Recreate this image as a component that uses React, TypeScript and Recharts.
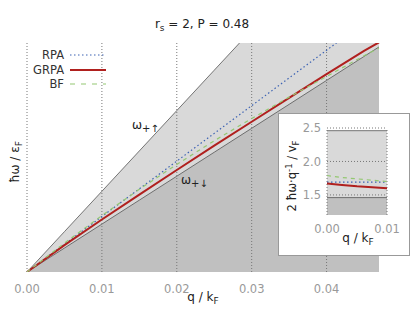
import { ComposedChart, Area, Line, XAxis, YAxis, ReferenceLine } from 'recharts';

// main panel: q / k_F and hbar*omega / eps_F
const qMain = [0, 0.005, 0.01, 0.015, 0.02, 0.025, 0.03, 0.035, 0.04, 0.045, 0.047];
const upperMain = [0, 0.0123, 0.0246, 0.0369, 0.0492, 0.0615, 0.0738, 0.0861, 0.0984, 0.1107, 0.1156];
const lowerMain = [0, 0.0073, 0.0146, 0.0219, 0.0292, 0.0365, 0.0438, 0.0511, 0.0584, 0.0657, 0.0686];
const rpaMain = [0, 0.00845, 0.0169, 0.02535, 0.0338, 0.04225, 0.0507, 0.05915, 0.0676, 0.07605, 0.0794];
const grpaMain = [0, 0.0082, 0.0160, 0.0236, 0.0311, 0.0385, 0.0458, 0.0531, 0.0603, 0.0674, 0.0700];
const bfMain = [0, 0.0088, 0.0172, 0.0252, 0.0328, 0.0400, 0.0468, 0.0533, 0.0596, 0.0659, 0.0683];
const mainTicks = [0, 0.01, 0.02, 0.03, 0.04];

// inset: 2 hbar*omega / (q v_F)
const qInset = [0, 0.0025, 0.005, 0.0075, 0.01];
const upperInset = [2.46, 2.46, 2.46, 2.46, 2.46];
const lowerInset = [1.46, 1.46, 1.46, 1.46, 1.46];
const rpaInset = [1.69, 1.69, 1.69, 1.69, 1.69];
const grpaInset = [1.67, 1.65, 1.63, 1.615, 1.6];
const bfInset = [1.79, 1.76, 1.74, 1.72, 1.7];
const insetXTicks = [0, 0.01];
const insetYTicks = [1.5, 2.0, 2.5];

const mainData = qMain.map((q, i) => ({
  q,
  upper: upperMain[i],
  lower: lowerMain[i],
  rpa: rpaMain[i],
  grpa: grpaMain[i],
  bf: bfMain[i],
}));

const insetData = qInset.map((q, i) => ({
  q,
  upper: upperInset[i],
  lower: lowerInset[i],
  rpa: rpaInset[i],
  grpa: grpaInset[i],
  bf: bfInset[i],
}));

const FONT = 'DejaVu Sans';
const LIGHT = '#d9d9d9';
const DARK = '#c0c0c0';
const EDGE = '#555';
const BLUE = '#3d63b3';
const RED = '#b0201e';
const GREEN = '#94c872';

export default function App() {
  return (
    <div style={{ position: 'absolute', left: 0, top: 0, width: 415, height: 319, background: '#fff', fontFamily: FONT }}>
      <ComposedChart
        width={415}
        height={319}
        data={mainData}
        margin={{ top: 43, right: 36, left: 27, bottom: 17 }}
      >
        <XAxis
          dataKey="q"
          type="number"
          domain={[0, 0.047]}
          ticks={mainTicks}
          tickFormatter={(v: number) => v.toFixed(2)}
          axisLine={false}
          tickLine={false}
          tickSize={0}
          tickMargin={13}
          height={30}
          tick={{ fill: '#999', fontSize: 11.5, fontFamily: FONT }}
        />
        <YAxis hide type="number" domain={[0, 0.0698]} allowDataOverflow />
        <Area dataKey="upper" type="linear" fill={LIGHT} fillOpacity={1} stroke={EDGE} strokeWidth={0.8} isAnimationActive={false} dot={false} activeDot={false} />
        <Area dataKey="lower" type="linear" fill={DARK} fillOpacity={1} stroke={EDGE} strokeWidth={0.8} isAnimationActive={false} dot={false} activeDot={false} />
        {mainTicks.map((t) => (
          <ReferenceLine key={t} x={t} stroke="#777" strokeDasharray="1 2" />
        ))}
        <Line dataKey="rpa" type="linear" stroke={BLUE} strokeWidth={1.2} strokeDasharray="1.5 2.5" dot={false} isAnimationActive={false} />
        <Line dataKey="grpa" type="linear" stroke={RED} strokeWidth={2} dot={false} isAnimationActive={false} />
        <Line dataKey="bf" type="linear" stroke={GREEN} strokeWidth={1.2} strokeDasharray="4 4" dot={false} isAnimationActive={false} />
      </ComposedChart>

      <svg width={415} height={319} style={{ position: 'absolute', left: 0, top: 0, pointerEvents: 'none' }} fontFamily={FONT}>
        <text x={202} y={28} textAnchor="middle" fontSize={12} fill="#222">
          r<tspan fontSize={9} dy={3}>s</tspan>
          <tspan dy={-3}> = 2, P = 0.48</tspan>
        </text>
        <text transform="translate(19,162) rotate(-90)" textAnchor="middle" fontSize={12} fill="#222">
          ħω / ε<tspan fontSize={9} dy={3}>F</tspan>
        </text>
        <text x={203} y={301} textAnchor="middle" fontSize={12} fill="#222">
          q / k<tspan fontSize={9} dy={3}>F</tspan>
        </text>
        <text x={132} y={129} fontSize={12} fill="#222">
          ω<tspan fontSize={10} dy={3}>+↑</tspan>
        </text>
        <text x={181} y={184} fontSize={12} fill="#222">
          ω<tspan fontSize={10} dy={3}>+↓</tspan>
        </text>
        <g fontSize={11.5} fill="#333" textAnchor="end">
          <text x={64} y={59}>RPA</text>
          <text x={64} y={74}>GRPA</text>
          <text x={64} y={88}>BF</text>
        </g>
        <line x1={70} x2={106} y1={55} y2={55} stroke={BLUE} strokeWidth={1.2} strokeDasharray="1.5 2.5" />
        <line x1={70} x2={106} y1={70} y2={70} stroke={RED} strokeWidth={2} />
        <line x1={70} x2={106} y1={84} y2={84} stroke={GREEN} strokeWidth={1.2} strokeDasharray="5 6" />
      </svg>

      <div style={{ position: 'absolute', left: 278, top: 113, width: 130, height: 141, border: '1px solid #999', background: '#fff' }}>
        <ComposedChart
          width={130}
          height={141}
          data={insetData}
          margin={{ top: 14, right: 22, left: 0, bottom: 10 }}
        >
          <XAxis
            dataKey="q"
            type="number"
            domain={[0, 0.01]}
            ticks={insetXTicks}
            tickFormatter={(v: number) => v.toFixed(2)}
            axisLine={false}
            tickLine={false}
            tickSize={0}
            tickMargin={10}
            height={30}
            tick={{ fill: '#999', fontSize: 11.5, fontFamily: FONT }}
          />
          <YAxis
            type="number"
            domain={[1.2, 2.5]}
            ticks={insetYTicks}
            tickFormatter={(v: number) => v.toFixed(1)}
            allowDataOverflow
            axisLine={false}
            tickLine={false}
            tickSize={0}
            tickMargin={6}
            width={48}
            tick={{ fill: '#999', fontSize: 11.5, fontFamily: FONT }}
          />
          <Area dataKey="upper" type="linear" fill={LIGHT} fillOpacity={1} stroke={EDGE} strokeWidth={0.8} isAnimationActive={false} dot={false} activeDot={false} />
          <Area dataKey="lower" type="linear" fill={DARK} fillOpacity={1} stroke={EDGE} strokeWidth={0.8} isAnimationActive={false} dot={false} activeDot={false} />
          {insetXTicks.map((t) => (
            <ReferenceLine key={'x' + t} x={t} stroke="#777" strokeDasharray="1 2" />
          ))}
          {insetYTicks.map((t) => (
            <ReferenceLine key={'y' + t} y={t} stroke="#777" strokeDasharray="1 2" />
          ))}
          <Line dataKey="rpa" type="linear" stroke={BLUE} strokeWidth={1.2} strokeDasharray="1.5 2.5" dot={false} isAnimationActive={false} />
          <Line dataKey="bf" type="linear" stroke={GREEN} strokeWidth={1.2} strokeDasharray="4 4" dot={false} isAnimationActive={false} />
          <Line dataKey="grpa" type="linear" stroke={RED} strokeWidth={2} dot={false} isAnimationActive={false} />
        </ComposedChart>
        <svg width={130} height={141} style={{ position: 'absolute', left: 0, top: 0, pointerEvents: 'none' }} fontFamily={FONT}>
          <text transform="translate(17,62) rotate(-90)" textAnchor="middle" fontSize={11.5} fill="#222">
            2 ħω·q<tspan fontSize={8.5} dy={-4}>-1</tspan>
            <tspan dy={4}> / v</tspan>
            <tspan fontSize={8.5} dy={3}>F</tspan>
          </text>
          <text x={79} y={128} textAnchor="middle" fontSize={12} fill="#222">
            q / k<tspan fontSize={9} dy={3}>F</tspan>
          </text>
        </svg>
      </div>
    </div>
  );
}
